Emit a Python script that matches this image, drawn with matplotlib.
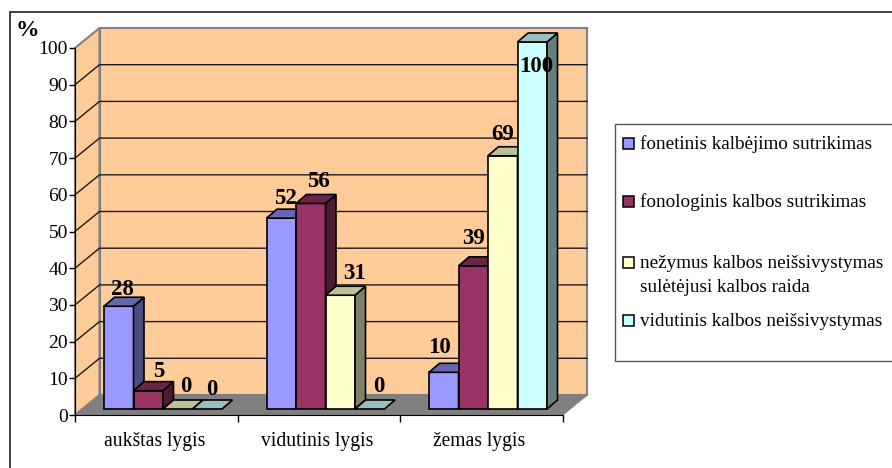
import matplotlib
matplotlib.use("Agg")
import matplotlib.pyplot as plt
from matplotlib.patches import Polygon, Rectangle

plt.rcParams['font.family'] = ['Liberation Serif', 'DejaVu Serif']

categories = ["aukštas lygis", "vidutinis lygis", "žemas lygis"]
series_names = ["fonetinis kalbėjimo sutrikimas", "fonologinis kalbos sutrikimas",
                "nežymus kalbos neišsivystymas\nsulėtėjusi kalbos raida", "vidutinis kalbos neišsivystymas"]
fonetinis = [28, 52, 10]
fonologinis = [5, 56, 39]
nezymus = [0, 31, 69]
vidutinis = [0, 0, 100]

front = ["#9999FF", "#993366", "#FFFFCC", "#CCFFFF"]
top = ["#6666B3", "#6B2447", "#BFBF99", "#99BFBF"]
side = ["#4D4D80", "#4D1A33", "#808066", "#668080"]

# hand placed data labels, pixel nudges per series then category (x from bar centre, y above bar top)
nudge_x = [[4, 4, -4], [10, 8, 0], [8, 14, 0], [5, 9, 4]]
nudge_y = [[2, 5, 10], [5, 7, 13], [8, 7, 7], [5, 8, -39]]

W, H = 892, 468
x0, x1, y0, y100 = 75, 562.5, 415, 48
px_x = 3 / (x1 - x0)
px_y = 100 / (y0 - y100)

fig = plt.figure(figsize=(W / 100, H / 100), dpi=100)
ax = fig.add_axes([x0 / W, 1 - y0 / H, (x1 - x0) / W, (y0 - y100) / H])
ax.set_xlim(0, 3)
ax.set_ylim(0, 100)
ax.patch.set_visible(False)

# outer frame and legend box, in pixels
tr = fig.transFigure
fig.add_artist(Rectangle((9.5 / W, -0.1), 1, 1 - 12 / H + 0.1, transform=tr, fc="white", ec="#222222",
                         lw=1.2, zorder=-2))
fig.add_artist(Rectangle((615 / W, 1 - 360.5 / H), 1, (360.5 - 124) / H, transform=tr, fc="white", ec="#555555",
                         lw=1, zorder=-1))

# walls and floor
wall_dx, wall_dy = 24.5 * px_x, 20 * px_y
ax.add_patch(Polygon([(0, 0), (0, 100), (wall_dx, 100 + wall_dy), (wall_dx, wall_dy)],
                     fc="#FFCC99", ec="#808080", lw=1.5, clip_on=False, zorder=1))
ax.add_patch(Rectangle((wall_dx, wall_dy), 3, 100, fc="#FFCC99", ec="#808080", lw=1.5, clip_on=False, zorder=1))
ax.add_patch(Polygon([(0, 0), (3, 0), (3 + wall_dx, wall_dy), (wall_dx, wall_dy)],
                     fc="#808080", ec="#808080", lw=1, clip_on=False, zorder=2))
for v in range(10, 100, 10):
    ax.plot([0, wall_dx, 3 + wall_dx], [v, v + wall_dy, v + wall_dy], color="#1a1a1a", lw=1,
            clip_on=False, zorder=2, solid_joinstyle="miter")

# bars
bar_w = 29.5 * px_x
left = 29 * px_x
base = 6 * px_y
dx, dy = 10.5 * px_x, 9 * px_y
all_series = [fonetinis, fonologinis, nezymus, vidutinis]
z = 3
for c in range(3):
    for s, vals in enumerate(all_series):
        v = vals[c]
        xl = c + left + s * bar_w
        xr = xl + bar_w
        t = base + v
        if v > 0:
            ax.bar(xl, v, bar_w, bottom=base, align="edge", color=front[s], edgecolor="black",
                   lw=1.2, zorder=z, clip_on=False)
            ax.add_patch(Polygon([(xr, base), (xr + dx, base + dy), (xr + dx, t + dy), (xr, t)],
                                 fc=side[s], ec="black", lw=1.2, clip_on=False, zorder=z))
        ax.add_patch(Polygon([(xl, t), (xr, t), (xr + dx, t + dy), (xl + dx, t + dy)],
                             fc=top[s], ec="black", lw=1.2, clip_on=False, zorder=z))
        z += 1
        ax.text(xl + bar_w / 2 + nudge_x[s][c] * px_x, t + dy + nudge_y[s][c] * px_y, str(v),
                ha="center", va="baseline", fontsize=16.5, fontweight="bold", zorder=30, clip_on=False)

ax.set_xticks([0, 1, 2, 3])
ax.set_xticklabels([])
ax.set_yticks(range(0, 101, 10))
ax.tick_params(axis="y", labelsize=14, length=4, width=1, pad=1, colors="black")
ax.tick_params(axis="x", length=5, width=1)
for s in ["top", "right"]:
    ax.spines[s].set_visible(False)
for s in ["left", "bottom"]:
    ax.spines[s].set_color("black")
    ax.spines[s].set_zorder(3)
for i, name in enumerate(categories):
    ax.text(i + 0.5 - 2 * px_x, -7.2, name, ha="center", va="center", fontsize=14.1, clip_on=False)

fig.text(16 / W, 1 - 30 / H, "%", fontsize=17, fontweight="bold", ha="left", va="center")

# legend
leg_y = [144, 202, 263, 321]
for y, name, col in zip(leg_y, series_names, front):
    fig.add_artist(Rectangle((623 / W, 1 - (y + 4.5) / H), 10.5 / W, 10.5 / H, transform=tr, fc=col, ec="black", lw=1.1))
    lines = name.split("\n")
    for k, line in enumerate(lines):
        fig.text(640 / W, 1 - (y + k * 25) / H, line, fontsize=13.8, ha="left", va="center")

fig.savefig("out.png", dpi=100)
